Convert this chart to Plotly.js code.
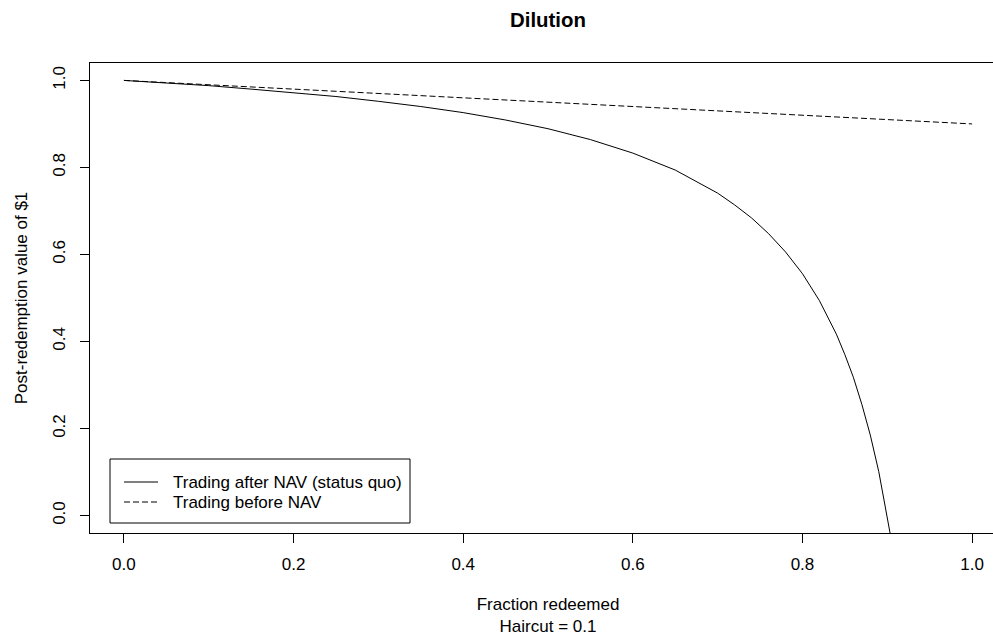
<!DOCTYPE html>
<html>
<head>
<meta charset="utf-8">
<script src="https://cdn.plot.ly/plotly-3.0.1.min.js"></script>
<style>
html,body{margin:0;padding:0;overflow:hidden;background:#fff;}
#chart{width:1010px;height:637px;}
</style>
</head>
<body>
<div id="chart"></div>
<script>
// Fraction redeemed vs post-redemption value of $1
var fracAfter = [0, 0.05, 0.1, 0.15, 0.2, 0.25, 0.3, 0.35, 0.4, 0.45, 0.5, 0.55, 0.6, 0.65, 0.7, 0.72, 0.74, 0.76, 0.78, 0.8, 0.82, 0.84, 0.85, 0.86, 0.87, 0.88, 0.89, 0.9, 0.905];
var valueAfter = [1.0, 0.994, 0.988, 0.980, 0.972, 0.963, 0.952, 0.940, 0.926, 0.909, 0.889, 0.864, 0.833, 0.794, 0.741, 0.714, 0.684, 0.648, 0.606, 0.556, 0.494, 0.417, 0.370, 0.318, 0.256, 0.185, 0.101, 0.0, -0.058];
var fracBefore = [0, 0.1, 0.2, 0.3, 0.4, 0.5, 0.6, 0.7, 0.8, 0.9, 1.0];
var valueBefore = [1.0, 0.99, 0.98, 0.97, 0.96, 0.95, 0.94, 0.93, 0.92, 0.91, 0.90];
var seriesNames = ["Trading after NAV (status quo)", "Trading before NAV"];
var tickVals = [0, 0.2, 0.4, 0.6, 0.8, 1.0];
var tickText = ["0.0", "0.2", "0.4", "0.6", "0.8", "1.0"];

var font = "Liberation Sans, Arial, sans-serif";
var fs = 17;
var dashStyle = "6px,3px";

// plot-area geometry (pixels) used only to place the legend box
var W = 1010, H = 637, L = 90, R = 4, T = 63, B = 104;
var pw = W - L - R, ph = H - T - B;
function px(x) { return (x - L) / pw; }
function py(y) { return (H - B - y) / ph; }

var traces = [
  {x: fracAfter, y: valueAfter, mode: "lines", name: seriesNames[0],
   line: {color: "#000", width: 1}},
  {x: fracBefore, y: valueBefore, mode: "lines", name: seriesNames[1],
   line: {color: "#000", width: 1, dash: dashStyle}}
];

var legendRows = [482, 502];
var shapes = [
  {type: "rect", xref: "paper", yref: "paper", x0: px(110), x1: px(410), y0: py(523), y1: py(459),
   line: {color: "#000", width: 1}, fillcolor: "#fff", layer: "above"}
];
var annotations = [];
seriesNames.forEach(function (nm, i) {
  shapes.push({type: "line", xref: "paper", yref: "paper", x0: px(124), x1: px(158),
    y0: py(legendRows[i]), y1: py(legendRows[i]),
    line: {color: "#000", width: 1, dash: i === 0 ? "solid" : dashStyle}, layer: "above"});
  annotations.push({xref: "paper", yref: "paper", x: px(171), y: py(legendRows[i]),
    xanchor: "left", yanchor: "middle", showarrow: false, text: nm,
    font: {family: font, size: fs, color: "#000"}});
});

var layout = {
  width: W, height: H,
  margin: {l: L, r: R, t: T, b: B},
  paper_bgcolor: "#fff", plot_bgcolor: "#fff",
  font: {family: font, size: fs, color: "#000"},
  title: {text: "<b>Dilution</b>", font: {family: font, size: 20.4, color: "#000"},
          xref: "paper", x: 0.5, xanchor: "center", yref: "container", y: 1 - 20/637, yanchor: "middle"},
  xaxis: {
    range: [-0.04, 1.04], tickvals: tickVals, ticktext: tickText,
    ticks: "outside", ticklen: 9, tickwidth: 1, tickcolor: "#000",
    showline: true, linecolor: "#000", linewidth: 1, mirror: true,
    showgrid: false, zeroline: false, ticklabelstandoff: 7,
    tickfont: {family: font, size: fs, color: "#000"},
    title: {text: "Fraction redeemed<br>Haircut = 0.1", standoff: 24,
            font: {family: font, size: fs, color: "#000"}},
    automargin: false
  },
  yaxis: {
    range: [-0.04, 1.04], tickvals: tickVals, ticktext: tickText, tickangle: -90,
    ticks: "outside", ticklen: 9, tickwidth: 1, tickcolor: "#000",
    showline: true, linecolor: "#000", linewidth: 1, mirror: true,
    showgrid: false, zeroline: false, ticklabelstandoff: 8,
    tickfont: {family: font, size: fs, color: "#000"},
    title: {text: "Post-redemption value of $1", standoff: 18,
            font: {family: font, size: fs, color: "#000"}},
    automargin: false
  },
  showlegend: false,
  shapes: shapes,
  annotations: annotations
};

Plotly.newPlot("chart", traces, layout, {displayModeBar: false, staticPlot: true});
</script>
</body>
</html>
